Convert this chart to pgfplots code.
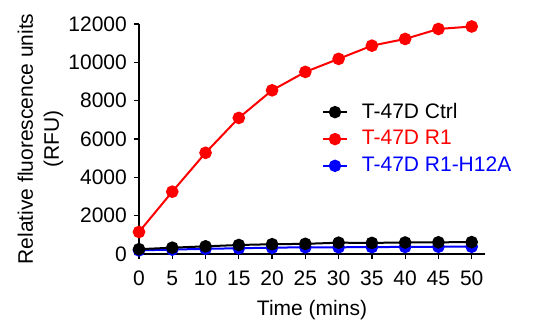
\documentclass[border=0pt]{standalone}
\usepackage{fontspec}
\setmainfont{Liberation Sans}
\usepackage{pgfplots}
\pgfplotsset{compat=1.18}
\begin{document}
\fontsize{21}{25}\selectfont
\begin{tikzpicture}
\begin{axis}[
  at={(0pt,0pt)}, anchor=south west,
  scale only axis,
  width=346pt, height=230pt,
  xmin=0, xmax=52, ymin=0, ymax=12000,
  axis x line*=bottom, axis y line*=left,
  axis line style={-, line width=1.3pt},
  xtick={0,5,...,50}, ytick={0,2000,...,12000},
  scaled ticks=false,
  tick align=outside, major tick length=5pt,
  tick style={line width=1.3pt, black},
  /pgf/number format/assume math mode=true,
  /pgf/number format/1000 sep={},
  ticklabel style={font=\fontsize{21}{25}\selectfont},
  xticklabel style={yshift=-5pt},
  xlabel={Time (mins)}, ylabel={Relative fluorescence units\\(RFU)},
  ylabel style={align=center, font=\fontsize{21}{26}\selectfont, yshift=-9pt},
  xlabel style={font=\fontsize{21}{25}\selectfont},
  clip=false,
  reverse legend,
  legend cell align=left,
  legend style={draw=none, fill=none, at={(0.52,0.675)}, anchor=north west,
    font=\fontsize{21}{25}\selectfont, row sep=5pt,
    /tikz/every odd column/.append style={column sep=12pt}},
  legend image code/.code={\draw[mark repeat=2,mark phase=2,#1] plot coordinates {(0pt,0pt)(12pt,0pt)(24pt,0pt)};},
  legend image post style={line width=1.8pt},
  every axis plot/.append style={line width=2pt, mark=*, mark size=5.3pt},
]
\addplot[blue, mark options={fill=blue}] coordinates {
(0,190)(5,230)(10,270)(15,300)(20,330)(25,350)(30,350)(35,360)(40,370)(45,380)(50,380)};
\addlegendentry{\textcolor{blue}{T-47D R1-H12A}}
\addplot[red, mark options={fill=red}] coordinates {
(0,1150)(5,3250)(10,5280)(15,7100)(20,8540)(25,9500)(30,10180)(35,10870)(40,11220)(45,11740)(50,11870)};
\addlegendentry{\textcolor{red}{T-47D R1}}
\addplot[black, mark options={fill=black}] coordinates {
(0,250)(5,330)(10,400)(15,470)(20,510)(25,530)(30,590)(35,580)(40,600)(45,610)(50,620)};
\addlegendentry{T-47D Ctrl}
\end{axis}
\useasboundingbox (-139pt,-73pt) rectangle (402pt,254pt);
\end{tikzpicture}
\end{document}
